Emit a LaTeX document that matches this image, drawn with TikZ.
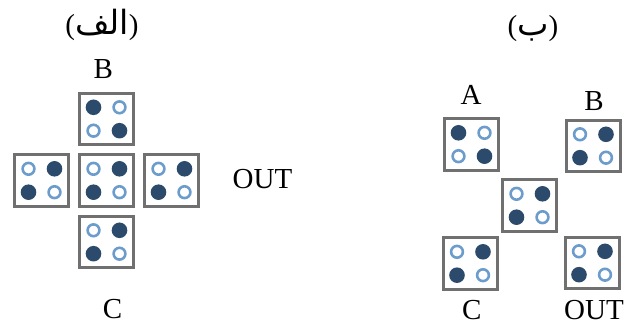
\documentclass[tikz,border=0pt]{standalone}
\usepackage{fontspec}
\setmainfont{Liberation Serif}
\newfontfamily\arabicfont[Script=Arabic,Scale=1.15]{DejaVu Sans}
\TeXXeTstate=1
\definecolor{boxgray}{HTML}{707070}
\definecolor{dotfill}{HTML}{2C4A6B}
\definecolor{dotring}{HTML}{6C9CCC}
\tikzset{
  cellbox/.style={draw=boxgray, line width=3pt, fill=white, minimum width=54pt, minimum height=51.5pt, inner sep=0pt},
  fulldot/.style={fill=dotfill, draw=none},
  ringdot/.style={draw=dotring, line width=2.6pt, fill=white},
  lbl/.style={font=\fontsize{29}{32}\selectfont, inner sep=0pt, anchor=base},
  cellP/.pic={
    \node[cellbox] (-box) {};
    \path[fulldot] (-13,-11.7) circle [radius=7.8pt];
    \path[ringdot] (13,-11.7) circle [radius=5.9pt];
    \path[ringdot] (-13,11.7) circle [radius=5.9pt];
    \path[fulldot] (13,11.7) circle [radius=7.8pt];
  },
  cellQ/.pic={
    \node[cellbox] (-box) {};
    \path[ringdot] (-13,-11.7) circle [radius=5.9pt];
    \path[fulldot] (13,-11.7) circle [radius=7.8pt];
    \path[fulldot] (-13,11.7) circle [radius=7.8pt];
    \path[ringdot] (13,11.7) circle [radius=5.9pt];
  }
}
\begin{document}
\begin{tikzpicture}[x=1pt,y=-1pt]
  \fill[white] (0,0) rectangle (630,326);
  \useasboundingbox (0,0) rectangle (630,326);
  % left panel
  \node[lbl] (titleL) at (102,35) {({\arabicfont\beginR الف\endR})};
  \pic (lt) at (106.5,119) {cellP};
  \pic (ll) at (41.5,180.5) {cellQ};
  \pic (lc) at (106.5,180.5) {cellQ};
  \pic (lr) at (171.5,180.5) {cellQ};
  \pic (lb) at (106.5,242) {cellQ};
  \node[lbl] (lB) at (103.3,78.3) {B};
  \node[lbl] (lOUT) at (262.5,189) {OUT};
  \node[lbl] (lC) at (112.5,319) {C};
  % right panel
  \node[lbl] (titleR) at (533,36) {({\arabicfont\beginR ب\endR})};
  \pic (ra) at (471.5,144.5) {cellP};
  \pic (rb) at (593,146) {cellQ};
  \pic (rc) at (529.5,205.5) {cellQ};
  \pic (rd) at (470,263.5) {cellQ};
  \pic (ro) at (592,263) {cellQ};
  \node[lbl] (rA) at (471,105) {A};
  \node[lbl] (rB) at (594,110.7) {B};
  \node[lbl] (rC) at (471.7,319.5) {C};
  \node[lbl] (rOUT) at (594,319.5) {OUT};
\end{tikzpicture}
\end{document}
